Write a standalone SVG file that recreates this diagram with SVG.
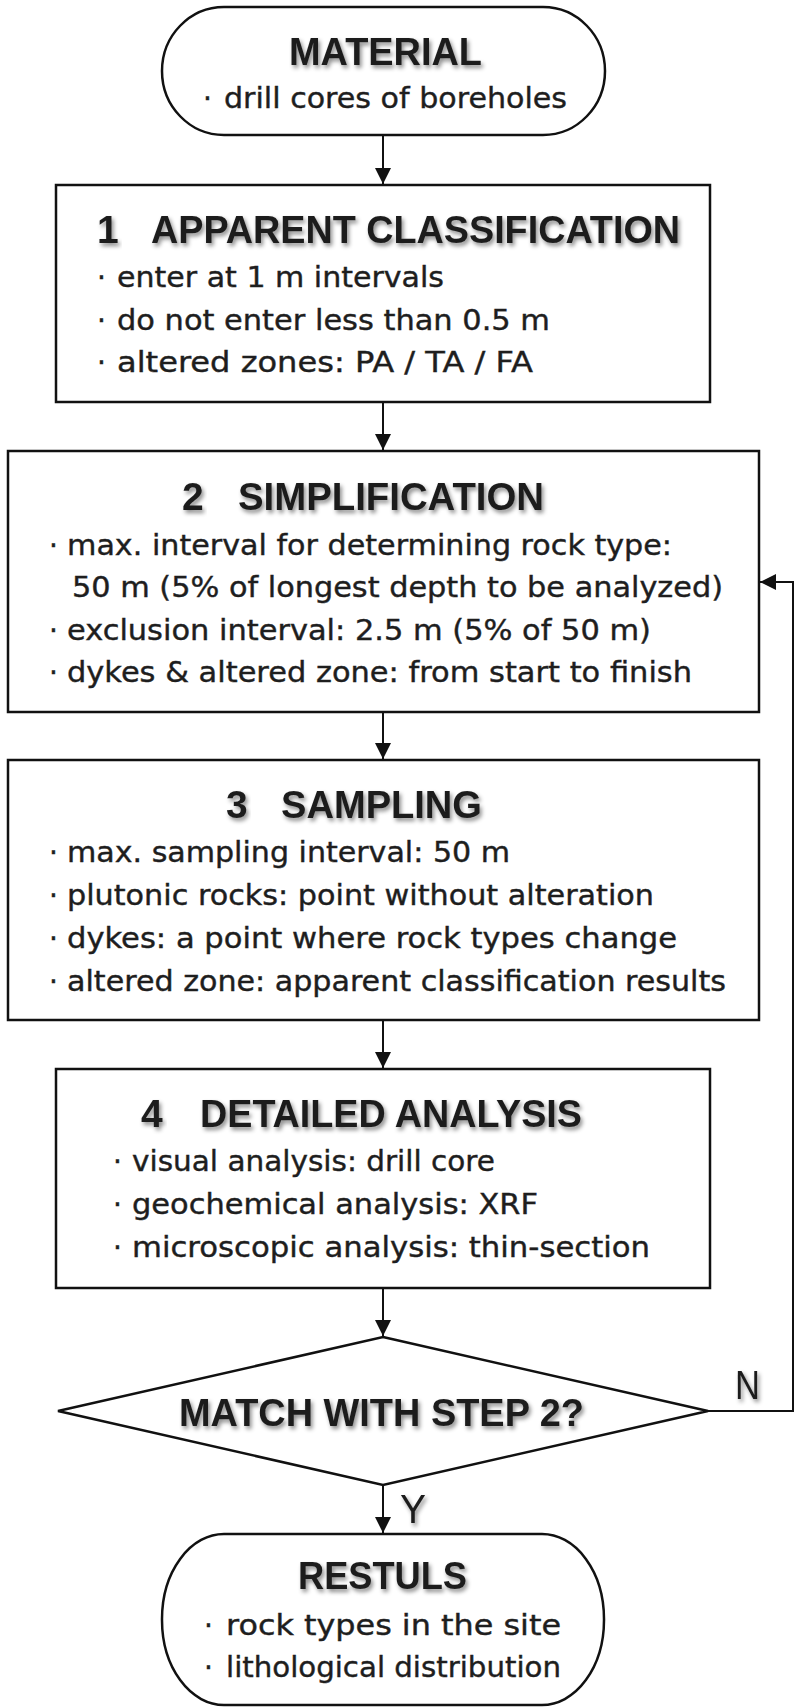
<svg xmlns="http://www.w3.org/2000/svg" width="800" height="1708" viewBox="0 0 800 1708">
<style>
.shape{fill:#fff;stroke:#111;stroke-width:2.5}
.conn{fill:none;stroke:#111;stroke-width:2}
.title{font-family:"Liberation Sans",Arial,sans-serif;font-weight:bold;font-size:39px;fill:#1e1e1e}
.body{font-family:"DejaVu Sans","Liberation Sans",sans-serif;font-size:28px;fill:#1e1e1e;stroke:#1e1e1e;stroke-width:0.4}
.lbl{font-family:"Liberation Sans",Arial,sans-serif;font-size:40px;fill:#1e1e1e}
</style>
<defs>
<marker id="ah" viewBox="0 0 16 16" markerWidth="16" markerHeight="16" refX="16" refY="8" orient="auto" markerUnits="userSpaceOnUse">
<path d="M0,0 L16,8 L0,16 z" fill="#111"/>
</marker>
<filter id="sh" x="-10%" y="-30%" width="125%" height="180%">
<feDropShadow dx="2" dy="3" stdDeviation="2" flood-color="#000" flood-opacity="0.45"/>
</filter>
</defs>
<rect width="800" height="1708" fill="#fff"/>

<g id="connectors">
<line class="conn" x1="383" y1="135" x2="383" y2="184" marker-end="url(#ah)"/>
<line class="conn" x1="383" y1="402" x2="383" y2="450" marker-end="url(#ah)"/>
<line class="conn" x1="383" y1="712" x2="383" y2="759" marker-end="url(#ah)"/>
<line class="conn" x1="383" y1="1020" x2="383" y2="1068" marker-end="url(#ah)"/>
<line class="conn" x1="383" y1="1288" x2="383" y2="1336" marker-end="url(#ah)"/>
<line class="conn" x1="383" y1="1485" x2="383" y2="1533" marker-end="url(#ah)"/>
<polyline class="conn" points="708,1411 793,1411 793,582 760,582" marker-end="url(#ah)"/>
<text class="lbl" x="735" y="1399" textLength="25" lengthAdjust="spacingAndGlyphs" filter="url(#sh)">N</text>
<text class="lbl" x="400" y="1523" textLength="26" lengthAdjust="spacingAndGlyphs" filter="url(#sh)">Y</text>
</g>

<g id="material">
<rect class="shape" x="162" y="7" width="443" height="128" rx="62" ry="64"/>
<text class="title" x="289" y="65" textLength="193" lengthAdjust="spacingAndGlyphs" filter="url(#sh)">MATERIAL</text>
<text class="body" x="203" y="108">·</text>
<text class="body" x="224" y="108" textLength="343" lengthAdjust="spacingAndGlyphs">drill cores of boreholes</text>
</g>

<g id="step1">
<rect class="shape" x="56" y="185" width="654" height="217"/>
<text class="title" x="97" y="243" filter="url(#sh)">1</text>
<text class="title" x="151" y="243" textLength="529" lengthAdjust="spacingAndGlyphs" filter="url(#sh)">APPARENT CLASSIFICATION</text>
<text class="body" x="97" y="287">·</text>
<text class="body" x="117" y="287" textLength="327" lengthAdjust="spacingAndGlyphs">enter at 1 m intervals</text>
<text class="body" x="97" y="330">·</text>
<text class="body" x="117" y="330" textLength="433" lengthAdjust="spacingAndGlyphs">do not enter less than 0.5 m</text>
<text class="body" x="97" y="372">·</text>
<text class="body" x="117" y="372" textLength="416" lengthAdjust="spacingAndGlyphs">altered zones: PA / TA / FA</text>
</g>

<g id="step2">
<rect class="shape" x="8" y="451" width="751" height="261"/>
<text class="title" x="182" y="510" filter="url(#sh)">2</text>
<text class="title" x="238" y="510" textLength="306" lengthAdjust="spacingAndGlyphs" filter="url(#sh)">SIMPLIFICATION</text>
<text class="body" x="49" y="555">·</text>
<text class="body" x="67" y="555" textLength="605" lengthAdjust="spacingAndGlyphs">max. interval for determining rock type:</text>
<text class="body" x="72" y="597" textLength="651" lengthAdjust="spacingAndGlyphs">50 m (5% of longest depth to be analyzed)</text>
<text class="body" x="49" y="640">·</text>
<text class="body" x="67" y="640" textLength="584" lengthAdjust="spacingAndGlyphs">exclusion interval: 2.5 m (5% of 50 m)</text>
<text class="body" x="49" y="682">·</text>
<text class="body" x="67" y="682" textLength="625" lengthAdjust="spacingAndGlyphs">dykes &amp; altered zone: from start to finish</text>
</g>

<g id="step3">
<rect class="shape" x="8" y="760" width="751" height="260"/>
<text class="title" x="226" y="818" filter="url(#sh)">3</text>
<text class="title" x="281" y="818" textLength="201" lengthAdjust="spacingAndGlyphs" filter="url(#sh)">SAMPLING</text>
<text class="body" x="49" y="862">·</text>
<text class="body" x="67" y="862" textLength="443" lengthAdjust="spacingAndGlyphs">max. sampling interval: 50 m</text>
<text class="body" x="49" y="905">·</text>
<text class="body" x="67" y="905" textLength="587" lengthAdjust="spacingAndGlyphs">plutonic rocks: point without alteration</text>
<text class="body" x="49" y="948">·</text>
<text class="body" x="67" y="948" textLength="610" lengthAdjust="spacingAndGlyphs">dykes: a point where rock types change</text>
<text class="body" x="49" y="991">·</text>
<text class="body" x="67" y="991" textLength="659" lengthAdjust="spacingAndGlyphs">altered zone: apparent classification results</text>
</g>

<g id="step4">
<rect class="shape" x="56" y="1069" width="654" height="219"/>
<text class="title" x="141" y="1127" filter="url(#sh)">4</text>
<text class="title" x="200" y="1127" textLength="382" lengthAdjust="spacingAndGlyphs" filter="url(#sh)">DETAILED ANALYSIS</text>
<text class="body" x="113" y="1171">·</text>
<text class="body" x="132" y="1171" textLength="363" lengthAdjust="spacingAndGlyphs">visual analysis: drill core</text>
<text class="body" x="113" y="1214">·</text>
<text class="body" x="132" y="1214" textLength="406" lengthAdjust="spacingAndGlyphs">geochemical analysis: XRF</text>
<text class="body" x="113" y="1257">·</text>
<text class="body" x="132" y="1257" textLength="518" lengthAdjust="spacingAndGlyphs">microscopic analysis: thin-section</text>
</g>

<g id="decision">
<polygon class="shape" points="383,1337 708,1411 383,1485 58,1411"/>
<text class="title" x="179" y="1426" textLength="405" lengthAdjust="spacingAndGlyphs" filter="url(#sh)">MATCH WITH STEP 2?</text>
</g>

<g id="results">
<rect class="shape" x="162" y="1534" width="442" height="171" rx="62" ry="85"/>
<text class="title" x="298" y="1589" textLength="169" lengthAdjust="spacingAndGlyphs" filter="url(#sh)">RESTULS</text>
<text class="body" x="204" y="1635">·</text>
<text class="body" x="226" y="1635" textLength="335" lengthAdjust="spacingAndGlyphs">rock types in the site</text>
<text class="body" x="204" y="1677">·</text>
<text class="body" x="226" y="1677" textLength="335" lengthAdjust="spacingAndGlyphs">lithological distribution</text>
</g>
</svg>
